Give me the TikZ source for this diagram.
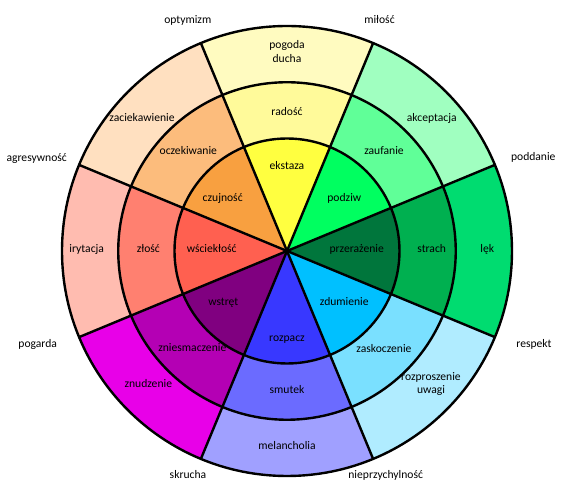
\documentclass[tikz,border=0pt]{standalone}
\usepackage{fontspec}
\setmainfont{Carlito}
\definecolor{cEk}{RGB}{255,255,64}
\definecolor{cPo}{RGB}{0,255,96}
\definecolor{cPr}{RGB}{0,118,60}
\definecolor{cZd}{RGB}{0,192,255}
\definecolor{cRo}{RGB}{56,56,255}
\definecolor{cWs}{RGB}{128,0,128}
\definecolor{cWc}{RGB}{255,96,80}
\definecolor{cCz}{RGB}{248,160,64}
\definecolor{mRa}{RGB}{255,250,154}
\definecolor{mZa}{RGB}{96,255,152}
\definecolor{mSt}{RGB}{0,176,80}
\definecolor{mZs}{RGB}{122,224,255}
\definecolor{mSm}{RGB}{107,107,255}
\definecolor{mZn}{RGB}{180,0,180}
\definecolor{mZl}{RGB}{255,128,112}
\definecolor{mOc}{RGB}{252,188,124}
\definecolor{oPd}{RGB}{255,251,192}
\definecolor{oAk}{RGB}{160,255,192}
\definecolor{oLe}{RGB}{0,220,112}
\definecolor{oRu}{RGB}{176,236,255}
\definecolor{oMe}{RGB}{160,160,255}
\definecolor{oZn}{RGB}{232,0,232}
\definecolor{oIr}{RGB}{255,188,176}
\definecolor{oZc}{RGB}{255,224,192}
\tikzset{
  lbl/.style={font=\fontsize{11.6}{13.4}\selectfont, align=center, inner sep=0pt, text height=0.7em, text depth=0.23em},
  wheelline/.style={line width=2.4pt, draw=black}
}
\begin{document}
\begin{tikzpicture}[x=1pt,y=1pt]
\useasboundingbox (-287,-235) rectangle (284,251);
\def\Ro{225}\def\Rm{168.75}\def\Ri{112.5}
% sectors: angle / inner / middle / outer colours
\foreach \a/\ci/\cm/\co in {90/cEk/mRa/oPd, 45/cPo/mZa/oAk, 0/cPr/mSt/oLe, -45/cZd/mZs/oRu, -90/cRo/mSm/oMe, -135/cWs/mZn/oZn, 180/cWc/mZl/oIr, 135/cCz/mOc/oZc}{
  \fill[\co] (0,0) -- (\a-22.5:\Ro) arc[start angle=\a-22.5, end angle=\a+22.5, radius=\Ro] -- cycle;
  \fill[\cm] (0,0) -- (\a-22.5:\Rm) arc[start angle=\a-22.5, end angle=\a+22.5, radius=\Rm] -- cycle;
  \fill[\ci] (0,0) -- (\a-22.5:\Ri) arc[start angle=\a-22.5, end angle=\a+22.5, radius=\Ri] -- cycle;
}
\foreach \b in {22.5,67.5,...,337.5}{
  \draw[wheelline] (0,0) -- (\b:\Ro);
}
\draw[wheelline] (0,0) circle[radius=\Ri];
\draw[wheelline] (0,0) circle[radius=\Rm];
\draw[wheelline] (0,0) circle[radius=\Ro];
% labels
\node[lbl] (pd) at (0,191) {pogoda\\ducha};
\node[lbl] (ra) at (0,138.3) {radość};
\node[lbl] (ek) at (0,84.3) {ekstaza};
\node[lbl] (zc) at (-145,132) {zaciekawienie};
\node[lbl] (ak) at (144.7,132) {akceptacja};
\node[lbl] (oc) at (-98.7,99.3) {oczekiwanie};
\node[lbl] (zf) at (97,99.3) {zaufanie};
\node[lbl] (cz) at (-64.3,52) {czujność};
\node[lbl] (po) at (57.3,52) {podziw};
\node[lbl] (wc) at (-75.3,1) {wściekłość};
\node[lbl] (pr) at (69.7,1) {przerażenie};
\node[lbl] (zl) at (-138.7,1) {złość};
\node[lbl] (st) at (144.7,1) {strach};
\node[lbl] (ir) at (-200.3,1) {irytacja};
\node[lbl] (le) at (200.3,1) {lęk};
\node[lbl] (ws) at (-63.7,-51.7) {wstręt};
\node[lbl] (zd) at (57.3,-51.7) {zdumienie};
\node[lbl] (zn) at (-94.7,-98.3) {zniesmaczenie};
\node[lbl] (zs) at (97,-99) {zaskoczenie};
\node[lbl] (nu) at (-138.7,-134) {znudzenie};
\node[lbl] (ru) at (144,-140.3) {rozproszenie\\uwagi};
\node[lbl] (rp) at (0,-88) {rozpacz};
\node[lbl] (sm) at (0,-139.7) {smutek};
\node[lbl] (me) at (0,-195.7) {melancholia};
% dyads
\node[lbl] (op) at (-99.2,230.3) {optymizm};
\node[lbl] (mi) at (92.5,230.3) {miłość};
\node[lbl] (ag) at (-250.3,91.7) {agresywność};
\node[lbl] (pn) at (246.3,92.7) {poddanie};
\node[lbl] (pg) at (-249.3,-94) {pogarda};
\node[lbl] (re) at (247,-94) {respekt};
\node[lbl] (sk) at (-99,-224.7) {skrucha};
\node[lbl] (ni) at (98.7,-225) {nieprzychylność};
\end{tikzpicture}
\end{document}
